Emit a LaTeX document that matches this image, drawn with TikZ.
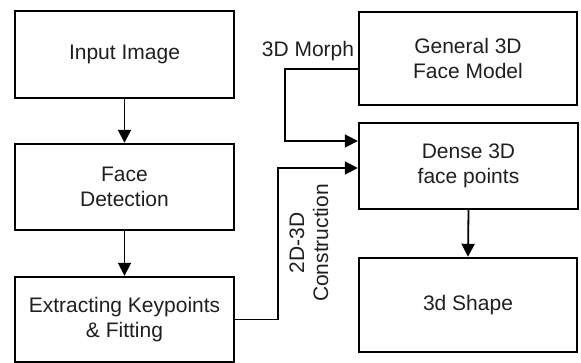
\documentclass[tikz,border=0pt]{standalone}
\usepackage{fontspec}
\setmainfont{Liberation Sans}
\usetikzlibrary{arrows.meta}
\begin{document}
\begin{tikzpicture}[x=1pt,y=-1pt,
  box/.style={draw=black, line width=2.4pt, align=center, inner sep=0pt,
    font=\fontsize{21}{25}\selectfont, text=black!88},
  conn/.style={draw=black, line width=1.8pt},
  arr/.style={conn, -{Triangle[width=13pt,length=13pt]}},
  lbl/.style={font=\fontsize{21}{24}\selectfont, text=black!88, align=center, inner sep=0pt}]
\useasboundingbox (0,0) rectangle (581,363);
\node[box, minimum width=219pt, minimum height=87pt] (in) at (124.5,54.5) {Input Image};
\node[box, minimum width=219pt, minimum height=86pt] (fd) at (124.5,187) {Face\\Detection};
\node[box, minimum width=219pt, minimum height=85pt] (ek) at (124.5,319.5) {Extracting Keypoints\\\& Fitting};
\node[box, minimum width=218pt, minimum height=93pt] (gen) at (468,58.5) {General 3D\\Face Model};
\node[box, minimum width=219pt, minimum height=86pt] (dense) at (468.5,166) {Dense 3D\\face points};
\node[box, minimum width=218pt, minimum height=94pt] (shape) at (468,305) {3d Shape};
\node[lbl, anchor=base] (morph) at (308,57) {3D Morph};
\node[lbl, rotate=90] (cons) at (309,243) {2D-3D\\Construction};
\coordinate (mc) at (285,69);
\coordinate (mb) at (285,141);
\coordinate (cc) at (278,168);
\draw[arr] (in.south) -- (fd.north);
\draw[arr] (fd.south) -- (ek.north);
\draw[arr] (dense.south) -- (shape.north);
\draw[arr] (gen.west |- mc) -- (mc) -- (mb) -- (dense.west |- mb);
\draw[arr] (ek.east) -| (cc) -- (dense.west |- cc);
\end{tikzpicture}
\end{document}
